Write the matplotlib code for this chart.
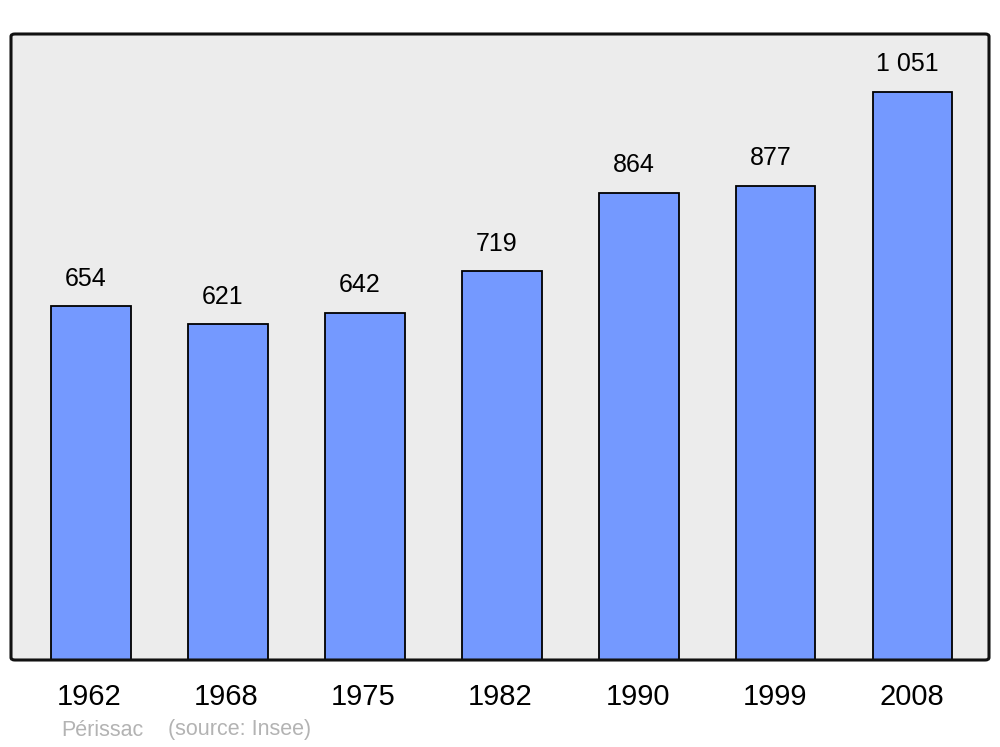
import matplotlib
matplotlib.use("Agg")
import matplotlib.pyplot as plt
from matplotlib.patches import FancyBboxPatch

years = ["1962", "1968", "1975", "1982", "1990", "1999", "2008"]
population = [654, 621, 642, 719, 864, 877, 1051]
value_labels = ["654", "621", "642", "719", "864", "877", "1 051"]

plt.rcParams['font.family'] = ['Liberation Sans', 'DejaVu Sans']

fig = plt.figure(figsize=(10, 7.47), dpi=100)
ax = fig.add_axes([0.011, 1 - 660 / 747, 0.978, 626 / 747])
ax.set_facecolor('#ececec')
for s in ax.spines.values():
    s.set_visible(False)

x = list(range(len(years)))
ax.bar(x, population, width=0.577, color='#7499ff', edgecolor='black', linewidth=1.3, zorder=2)

for xi, v, lab in zip(x, population, value_labels):
    ax.annotate(lab, (xi, v), xytext=(-4, 20), textcoords='offset points',
                ha='center', va='center', fontsize=18)
    ax.annotate(years[xi], (xi, 0), xycoords=('data', 'axes fraction'),
                xytext=(-1, -26.5), textcoords='offset points',
                ha='center', va='center', fontsize=21)

ax.set_xlim(-0.584, 6.555)
ax.set_ylim(0, 1158)
ax.set_xticks([])
ax.set_yticks([])

frame = FancyBboxPatch((0, 0), 1, 1, boxstyle="round,pad=0,rounding_size=0.004",
                       transform=ax.transAxes, facecolor='none', edgecolor='#111111',
                       linewidth=2.2, clip_on=False, zorder=5)
ax.add_patch(frame)

fig.text(0.061, 1 - 730 / 747, "Périssac", color='#b3b3b3', fontsize=15.5, va='center', ha='left')
fig.text(0.168, 1 - 730 / 747, "(source: Insee)", color='#b3b3b3', fontsize=15.5, va='center', ha='left')

fig.savefig("out.png", dpi=100)
